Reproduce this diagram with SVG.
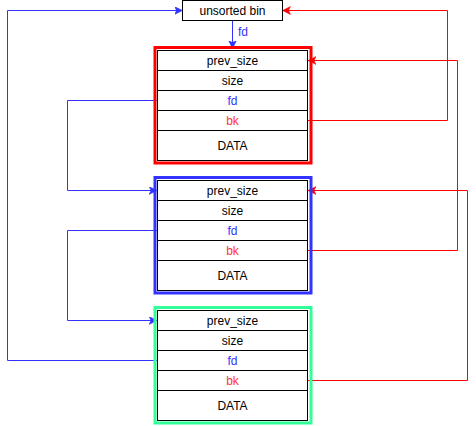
<svg xmlns="http://www.w3.org/2000/svg" width="476" height="426" viewBox="0 0 476 426">
<style>
text{font-family:"Liberation Sans",Arial,sans-serif;font-size:12px;text-anchor:middle;dominant-baseline:central;fill:#000}
.cell{fill:#fff;stroke:#000;stroke-width:1}
.frame{fill:none;stroke-width:3}
.fdt{fill:#3333FF}
.bkt{fill:#FF3333}
.b{fill:none;stroke:#3333FF;stroke-width:1}
.r{fill:none;stroke:#FF0000;stroke-width:1}
</style>
<defs>
<marker id="ab" markerUnits="userSpaceOnUse" markerWidth="10" markerHeight="10" refX="8" refY="4" orient="auto">
<path d="M0,0 L8,4 L0,8 L2,4 Z" fill="#3333FF" stroke="#3333FF" stroke-width="0.5"/>
</marker>
<marker id="ar" markerUnits="userSpaceOnUse" markerWidth="10" markerHeight="10" refX="8" refY="4" orient="auto">
<path d="M0,0 L8,4 L0,8 L2,4 Z" fill="#FF0000" stroke="#FF0000" stroke-width="0.5"/>
</marker>
</defs>

<g id="connectors">
<path class="b" d="M232.5,20.5 V48.5" marker-end="url(#ab)"/>
<text x="238" y="32" class="fdt" style="text-anchor:start">fd</text>
<path class="b" d="M157.5,360.5 H7.5 V10.5 H182.5" marker-end="url(#ab)"/>
<path class="b" d="M157.5,100.5 H67.5 V190.5 H157" marker-end="url(#ab)"/>
<path class="b" d="M157.5,230.5 H67.5 V320.5 H157" marker-end="url(#ab)"/>
<path class="r" d="M307.5,120.5 H447.5 V10.5 H282.5" marker-end="url(#ar)"/>
<path class="r" d="M307.5,250.5 H457.5 V60.5 H308" marker-end="url(#ar)"/>
<path class="r" d="M307.5,380.5 H467.5 V190.5 H308" marker-end="url(#ar)"/>
</g>

<g id="unsorted-bin">
<rect class="cell" x="182.5" y="0.5" width="100" height="20"/>
<text x="232.5" y="10.5">unsorted bin</text>
</g>

<g id="chunk1">
<rect class="frame" x="155" y="47.5" width="156" height="115.5" stroke="#FF0000"/>
<rect class="cell" x="157.5" y="50.5" width="150" height="20"/>
<rect class="cell" x="157.5" y="70.5" width="150" height="20"/>
<rect class="cell" x="157.5" y="90.5" width="150" height="20"/>
<rect class="cell" x="157.5" y="110.5" width="150" height="20"/>
<rect class="cell" x="157.5" y="130.5" width="150" height="30"/>
<text x="232.5" y="60.5">prev_size</text>
<text x="232.5" y="80.5">size</text>
<text x="232.5" y="100.5" class="fdt">fd</text>
<text x="232.5" y="120.5" class="bkt">bk</text>
<text x="232.5" y="145.5">DATA</text>
</g>

<g id="chunk2">
<rect class="frame" x="155" y="177.5" width="156" height="115.5" stroke="#3333FF"/>
<rect class="cell" x="157.5" y="180.5" width="150" height="20"/>
<rect class="cell" x="157.5" y="200.5" width="150" height="20"/>
<rect class="cell" x="157.5" y="220.5" width="150" height="20"/>
<rect class="cell" x="157.5" y="240.5" width="150" height="20"/>
<rect class="cell" x="157.5" y="260.5" width="150" height="30"/>
<text x="232.5" y="190.5">prev_size</text>
<text x="232.5" y="210.5">size</text>
<text x="232.5" y="230.5" class="fdt">fd</text>
<text x="232.5" y="250.5" class="bkt">bk</text>
<text x="232.5" y="275.5">DATA</text>
</g>

<g id="chunk3">
<rect class="frame" x="155" y="307.5" width="156" height="115.5" stroke="#33FF99"/>
<rect class="cell" x="157.5" y="310.5" width="150" height="20"/>
<rect class="cell" x="157.5" y="330.5" width="150" height="20"/>
<rect class="cell" x="157.5" y="350.5" width="150" height="20"/>
<rect class="cell" x="157.5" y="370.5" width="150" height="20"/>
<rect class="cell" x="157.5" y="390.5" width="150" height="30"/>
<text x="232.5" y="320.5">prev_size</text>
<text x="232.5" y="340.5">size</text>
<text x="232.5" y="360.5" class="fdt">fd</text>
<text x="232.5" y="380.5" class="bkt">bk</text>
<text x="232.5" y="405.5">DATA</text>
</g>
</svg>
